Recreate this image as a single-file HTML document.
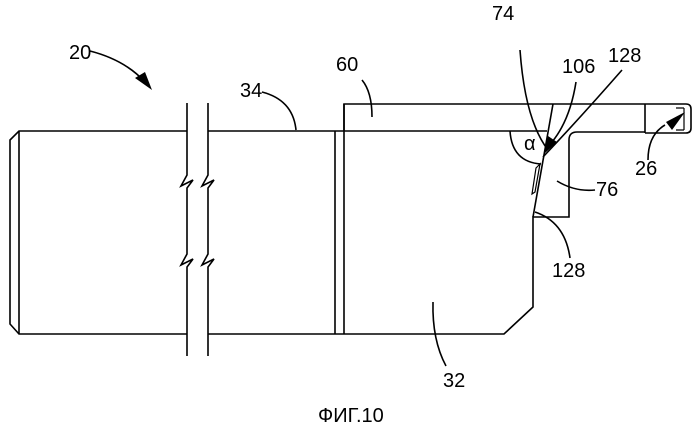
<!DOCTYPE html>
<html><head><meta charset="utf-8"><style>
html,body{margin:0;padding:0;background:#fff;width:699px;height:435px;overflow:hidden}
svg{display:block}
text{font-family:"Liberation Sans",sans-serif;font-size:20px;fill:#000}
</style></head><body>
<svg width="699" height="435" viewBox="0 0 699 435" xmlns="http://www.w3.org/2000/svg">
<g fill="none" stroke="#000" stroke-width="1.6">
<path d="M187,131 H19 L10,140 V324 L19,334 H187"/>
<line x1="19" y1="131" x2="19" y2="334"/>
<path d="M208,131 H335 M208,334 H335"/>
<path d="M187,103 V175 L181,186 L193,180 L187,188 V254 L181,265 L193,259 L187,267 V356"/>
<path d="M208,103 V175 L202,186 L214,180 L208,188 V254 L202,265 L214,259 L208,267 V356"/>
<line x1="335" y1="131" x2="335" y2="334"/>
<line x1="344" y1="104" x2="344" y2="334"/>
<path d="M335,131 H547 M335,334 H504 L533,307 V217 H569 V140 Q569,132 577,132 H645"/>
<path d="M344,131 V104 H686 Q691,104 691,109 V128 Q691,133 686,133 H645"/>
<line x1="645" y1="104" x2="645" y2="133"/>
<path d="M684,108 V130 M676,108 L684,108 M676,130 L684,130" stroke-width="1.2"/>
<path d="M553,104 L533,217"/>
<path d="M540,164 L536,168 L532,194 L535,192 Z" stroke-width="1.2"/>
<path d="M510,131 Q512,162 541,164"/>
<path d="M90,51 Q125,60 145,82"/>
<path d="M262,92 Q293,100 296,130"/>
<path d="M362,80 Q372,92 372,117"/>
<path d="M520,50 Q525,120 548,150"/>
<path d="M576,82 Q570,120 552,142"/>
<path d="M622,70 Q580,118 543,157"/>
<path d="M648,160 Q648,135 665,125"/>
<path d="M557,181 Q575,192 595,190"/>
<path d="M535,212 Q565,222 570,258"/>
<path d="M433,302 Q432,340 446,366"/>
</g>
<g fill="#000">
<polygon points="152,90 135,78 145,72"/>
<polygon points="544,154 548,136 557,142"/>
<polygon points="685,112 666,122 672,130"/>
</g>
<text x="69" y="59">20</text>
<text x="240" y="97">34</text>
<text x="336" y="71">60</text>
<text x="492" y="20">74</text>
<text x="562" y="73">106</text>
<text x="608" y="62">128</text>
<text x="524" y="150" font-size="22">α</text>
<text x="635" y="175">26</text>
<text x="596" y="196">76</text>
<text x="552" y="277">128</text>
<text x="443" y="387">32</text>
<text x="318" y="422" font-size="21">ФИГ.10</text>
</svg>
</body></html>
